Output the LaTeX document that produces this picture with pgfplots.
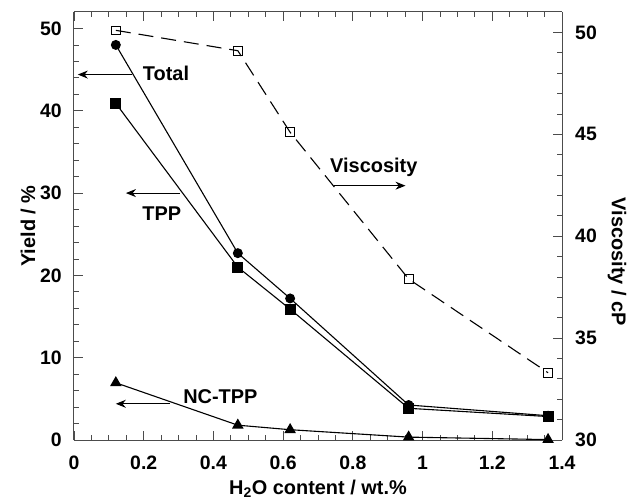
\documentclass[border=0pt]{standalone}
\usepackage{fontspec}
\setmainfont{Liberation Sans}
\usepackage{pgfplots}
\pgfplotsset{compat=1.18}
\usetikzlibrary{arrows.meta}
\begin{document}
\begin{tikzpicture}[every node/.style={font=\bfseries}]
\path[use as bounding box] (-74bp,-59bp) rectangle (553bp,440bp);
\pgfplotsset{
  common/.style={
    scale only axis, width=488bp, height=428bp,
    at={(0,0)}, anchor=south west,
    xmin=0, xmax=1.4,
    tick align=inside,
    major tick length=9bp, minor tick length=5bp,
    every tick/.style={black!70, line width=0.8bp},
    axis line style={black!70, line width=1bp},
    /pgf/number format/assume math mode=true,
    tick label style={font=\fontsize{19.5}{22}\selectfont\bfseries, inner sep=0pt},
    label style={font=\fontsize{20}{24}\selectfont\bfseries},
  }
}
\begin{axis}[common,
  ymin=0, ymax=52,
  xtick={0,0.2,0.4,0.6,0.8,1,1.2,1.4},
  xticklabels={0,0.2,0.4,0.6,0.8,1,1.2,1.4},
  minor x tick num=3,
  ytick={0,10,20,30,40,50},
  minor y tick num=4,
  axis y line*=left,
  xtick pos=both,
  xticklabel style={anchor=base, yshift=-29bp},
  yticklabel style={anchor=east, xshift=-12bp},
  xlabel={H\textsubscript{2}O content / wt.\%},
  ylabel={Yield / \%},
  xlabel style={at={(axis description cs:0.5,-0.1262)}, anchor=base},
  ylabel style={at={(axis description cs:-0.0943,0.5)}, anchor=center},
]
\addplot[black, line width=1.1bp, mark=*, mark size=4.4bp] coordinates {
(0.12,48.0) (0.47,22.7) (0.62,17.2) (0.96,4.25) (1.36,2.95)};
\addplot[black, line width=1.1bp, mark=square*, mark size=4.9bp] coordinates {
(0.12,40.9) (0.47,21.0) (0.62,15.9) (0.96,3.85) (1.36,2.85)};
\addplot[black, line width=1.1bp, mark=triangle*, mark size=5.6bp] coordinates {
(0.12,6.95) (0.47,1.8) (0.62,1.25) (0.96,0.35) (1.36,0.05)};
\node[font=\fontsize{20}{24}\selectfont\bfseries] at (axis cs:0.264,44.5) {Total};
\draw[-{Stealth[length=10bp,width=8bp]}, line width=0.9bp] (axis cs:0.165,44.4) -- (axis cs:0.011,44.4);
\node[font=\fontsize{20}{24}\selectfont\bfseries] at (axis cs:0.252,27.5) {TPP};
\draw[-{Stealth[length=10bp,width=8bp]}, line width=0.9bp] (axis cs:0.304,30.0) -- (axis cs:0.149,30.0);
\node[font=\fontsize{20}{24}\selectfont\bfseries] at (axis cs:0.86,33.1) {Viscosity};
\draw[-{Stealth[length=10bp,width=8bp]}, line width=0.9bp] (axis cs:0.745,30.9) -- (axis cs:0.951,30.9);
\node[font=\fontsize{20}{24}\selectfont\bfseries] at (axis cs:0.42,5.3) {NC-TPP};
\draw[-{Stealth[length=10bp,width=8bp]}, line width=0.9bp] (axis cs:0.275,4.4) -- (axis cs:0.12,4.4);
\end{axis}
\begin{axis}[common,
  ymin=30, ymax=51,
  axis y line*=right,
  axis x line=none,
  ytick={30,35,40,45,50},
  minor y tick num=4,
  yticklabel style={anchor=west, xshift=13bp},
  ylabel={Viscosity / cP},
  ylabel style={at={(axis description cs:1.1127,0.416)}, anchor=center, rotate=180},
]
\addplot[black, line width=1.1bp, dash pattern=on 15bp off 8bp, mark=square, mark size=4.4bp, mark options={solid, line width=0.8bp, fill=white}] coordinates {
(0.12,50.1) (0.47,49.1) (0.62,45.1) (0.96,37.9) (1.36,33.3)};
\end{axis}
\end{tikzpicture}
\end{document}
